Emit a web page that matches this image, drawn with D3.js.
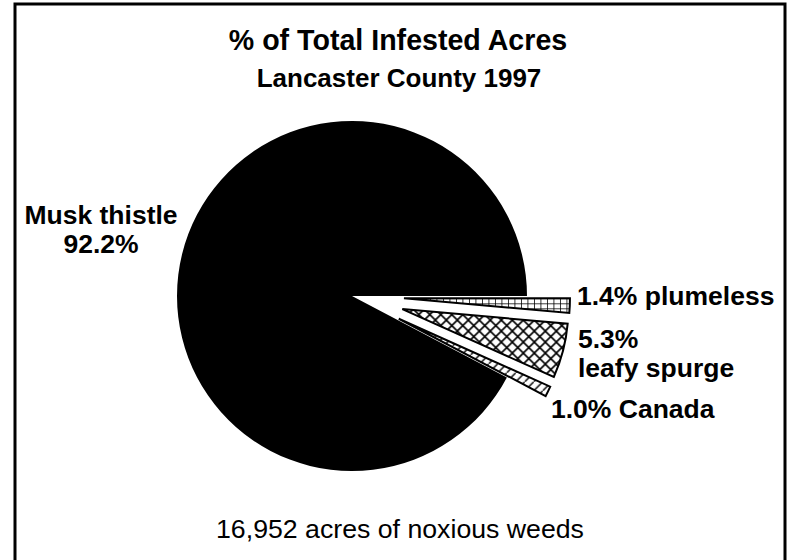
<!DOCTYPE html>
<html lang="en">
<head>
<meta charset="UTF-8">
<title>% of Total Infested Acres</title>
<script src="https://cdn.jsdelivr.net/npm/d3@7"></script>
<style>
  body { margin: 0; background: #fff; }
  svg text { font-family: "Liberation Sans", Arial, Helvetica, sans-serif; fill: #000; }
</style>
</head>
<body>
<svg id="chart" width="792" height="560"></svg>
<script>
// data (percent of total infested acres), pie order starts at 3 o'clock going clockwise
var weeds = ["plumeless", "leafy spurge", "Canada", "Musk thistle"];
var shares = [1.4, 5.3, 1.0, 92.2];
var exploded = [true, true, true, false];
var labelLines = [["1.4% plumeless"], ["5.3%", "leafy spurge"], ["1.0% Canada"], ["Musk thistle", "92.2%"]];

var titleText = "% of Total Infested Acres";
var subtitleText = "Lancaster County 1997";
var footText = "16,952 acres of noxious weeds";

var svg = d3.select("#chart");

// frame (bottom edge falls outside the picture, as in the original)
svg.append("rect")
    .attr("x", 15).attr("y", 4)
    .attr("width", 770).attr("height", 600)
    .attr("fill", "none").attr("stroke", "#000").attr("stroke-width", 3);

// fill patterns
var defs = svg.append("defs");
var pPlume = defs.append("pattern").attr("id", "pat-plumeless")
    .attr("patternUnits", "userSpaceOnUse").attr("width", 6.5).attr("height", 5);
pPlume.append("path").attr("d", "M0,0H6.5M0,0V5")
    .attr("stroke", "#000").attr("stroke-width", 1.6).attr("fill", "none");

var pLeafy = defs.append("pattern").attr("id", "pat-leafy")
    .attr("patternUnits", "userSpaceOnUse").attr("width", 11).attr("height", 11);
pLeafy.append("path").attr("d", "M-1,-1L12,12M-1,12L12,-1")
    .attr("stroke", "#000").attr("stroke-width", 1.6).attr("fill", "none");

var pCanada = defs.append("pattern").attr("id", "pat-canada")
    .attr("patternUnits", "userSpaceOnUse").attr("width", 9).attr("height", 9);
pCanada.append("path").attr("d", "M-1,10L10,-1")
    .attr("stroke", "#000").attr("stroke-width", 1.4).attr("fill", "none");

var fills = ["url(#pat-plumeless)", "url(#pat-leafy)", "url(#pat-canada)", "#000"];

// titles
svg.append("text").attr("x", 398).attr("y", 50)
    .attr("text-anchor", "middle").attr("font-size", 28.6).attr("font-weight", "bold")
    .text(titleText);
svg.append("text").attr("x", 399).attr("y", 87)
    .attr("text-anchor", "middle").attr("font-size", 26).attr("font-weight", "bold")
    .text(subtitleText);

// pie
var cx = 352, cy = 296, radius = 175, explodeR = 166, explodeBy = 52;

var pie = d3.pie().sort(null)
    .startAngle(Math.PI / 2).endAngle(Math.PI / 2 + 2 * Math.PI)
    .value(function (d, i) { return shares[i]; });
var arcs = pie(weeds);

var g = svg.append("g").attr("transform", "translate(" + cx + "," + cy + ")");

g.selectAll("path.slice")
    .data(arcs)
    .enter().append("path")
    .attr("class", "slice")
    .attr("transform", function (d, i) {
        if (!exploded[i]) return null;
        var mid = (d.startAngle + d.endAngle) / 2;
        return "translate(" + (Math.sin(mid) * explodeBy) + "," + (-Math.cos(mid) * explodeBy) + ")";
    })
    .attr("d", function (d, i) {
        return d3.arc().innerRadius(0).outerRadius(exploded[i] ? explodeR : radius)(d);
    })
    .attr("fill", function (d, i) { return fills[i]; })
    .attr("stroke", function (d, i) { return exploded[i] ? "#000" : "none"; })
    .attr("stroke-width", 2)
    .attr("stroke-linejoin", "miter");

// labels (anchor points are layout, not data)
var labelPos = [
    { x: 577, y: 305, anchor: "start" },
    { x: 578, y: 348, anchor: "start" },
    { x: 551, y: 418, anchor: "start" },
    { x: 101, y: 224, anchor: "middle" }
];
var lineGap = 29;

labelLines.forEach(function (lines, i) {
    var t = svg.append("text")
        .attr("x", labelPos[i].x).attr("y", labelPos[i].y)
        .attr("text-anchor", labelPos[i].anchor)
        .attr("font-size", 26.5).attr("font-weight", "bold");
    lines.forEach(function (ln, j) {
        t.append("tspan").attr("x", labelPos[i].x).attr("dy", j === 0 ? 0 : lineGap).text(ln);
    });
});

// footnote
svg.append("text").attr("x", 400).attr("y", 538)
    .attr("text-anchor", "middle").attr("font-size", 26.7)
    .text(footText);
</script>
</body>
</html>
